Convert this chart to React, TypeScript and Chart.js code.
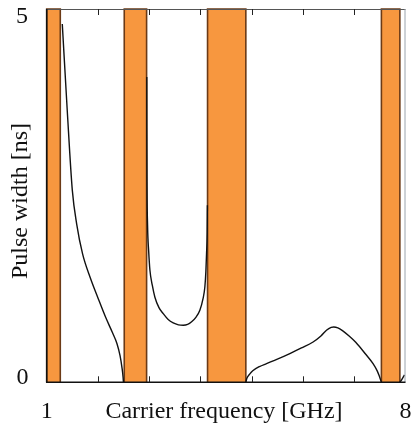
import React, { useEffect, useRef } from "react";
import { Chart, registerables } from "chart.js";

Chart.register(...registerables);

// Axis range and tick labels
const xMin = 1;
const xMax = 8;
const yMin = 0;
const yMax = 5;
const xTickValues = [2, 3, 4, 5, 6, 7];
const xEndLabels = ["1", "8"];
const yEndLabels = ["0", "5"];
const xTitle = "Carrier frequency [GHz]";
const yTitle = "Pulse width [ns]";

// Orange bands (start, end) in GHz
const bandStarts = [1.0, 2.513, 4.138, 7.53];
const bandEnds = [1.265, 2.949, 4.885, 7.89];

// Curve segments
const seg1X = [1.304, 1.4, 1.5, 1.585, 1.7, 1.85, 2.0, 2.15, 2.28, 2.37, 2.43, 2.47, 2.49, 2.497];
const seg1Y = [4.8, 3.65, 2.57, 2.12, 1.72, 1.4, 1.13, 0.87, 0.67, 0.52, 0.36, 0.19, 0.07, 0.0];

const seg2X = [2.953, 2.954, 2.958, 2.968, 2.99, 3.014, 3.06, 3.111, 3.19, 3.273, 3.37, 3.468, 3.57, 3.663, 3.75, 3.827, 3.91, 3.988, 4.05, 4.086, 4.105, 4.119, 4.13, 4.135];
const seg2Y = [4.09, 3.4, 2.6, 2.1, 1.75, 1.5, 1.3, 1.14, 1.0, 0.92, 0.84, 0.795, 0.77, 0.764, 0.775, 0.81, 0.87, 0.965, 1.12, 1.28, 1.48, 1.73, 2.0, 2.37];

const seg3X = [4.885, 4.905, 4.96, 5.02, 5.15, 5.289, 5.5, 5.743, 5.97, 6.197, 6.35, 6.458, 6.55, 6.6, 6.68, 6.77, 6.9, 7.029, 7.224, 7.367, 7.45, 7.487, 7.53];
const seg3Y = [0, 0.054, 0.11, 0.154, 0.21, 0.25, 0.31, 0.385, 0.46, 0.54, 0.62, 0.697, 0.735, 0.741, 0.73, 0.693, 0.62, 0.536, 0.375, 0.25, 0.15, 0.087, 0];

const seg4X = [7.89, 7.93, 7.98];
const seg4Y = [0, 0.04, 0.1];

const FONT = "24px 'Liberation Serif', 'Times New Roman', serif";

const framePlugin = {
  id: "framePlugin",
  afterDraw(chart: any) {
    const ctx = chart.ctx;
    const { left, right, top, bottom } = chart.chartArea;
    const xs = chart.scales.x;
    const ys = chart.scales.y;
    ctx.save();
    // frame
    ctx.lineWidth = 1;
    ctx.strokeStyle = "#555555";
    ctx.beginPath();
    ctx.moveTo(left, top + 0.5);
    ctx.lineTo(right, top + 0.5);
    ctx.stroke();
    ctx.strokeStyle = "#9aa4ae";
    ctx.beginPath();
    ctx.moveTo(right - 0.5, top);
    ctx.lineTo(right - 0.5, bottom);
    ctx.stroke();
    ctx.strokeStyle = "#111111";
    ctx.lineWidth = 1.5;
    ctx.beginPath();
    ctx.moveTo(left, top);
    ctx.lineTo(left, bottom);
    ctx.lineTo(right, bottom);
    ctx.stroke();
    // inward ticks
    ctx.lineWidth = 1;
    ctx.strokeStyle = "#222222";
    xTickValues.forEach((v) => {
      const px = Math.round(xs.getPixelForValue(v)) + 0.5;
      ctx.beginPath();
      ctx.moveTo(px, bottom);
      ctx.lineTo(px, bottom - 6);
      ctx.moveTo(px, top);
      ctx.lineTo(px, top + 6);
      ctx.stroke();
    });
    // labels
    ctx.fillStyle = "#111111";
    ctx.font = FONT;
    ctx.textAlign = "center";
    ctx.textBaseline = "alphabetic";
    ctx.fillText(xEndLabels[0], xs.getPixelForValue(xMin), 417.5);
    ctx.fillText(xEndLabels[1], xs.getPixelForValue(xMax), 417.5);
    ctx.fillText(xTitle, 224, 418);
    ctx.fillText(yEndLabels[0], 22.5, ys.getPixelForValue(yMin) + 1.8);
    ctx.fillText(yEndLabels[1], 22, ys.getPixelForValue(yMax) + 13.5);
    ctx.translate(27, 201);
    ctx.rotate(-Math.PI / 2);
    ctx.fillText(yTitle, 0, 0);
    ctx.restore();
  },
};

function toPoints(xs: number[], ys: number[]) {
  return xs.map((x, i) => ({ x, y: ys[i] }));
}

export default function App() {
  const canvasRef = useRef<HTMLCanvasElement | null>(null);

  useEffect(() => {
    document.body.style.margin = "0";
    const canvas = canvasRef.current;
    if (!canvas) return;

    const bandDatasets = bandStarts.map((a, i) => ({
      type: "line" as const,
      data: [
        { x: a, y: yMin },
        { x: a, y: yMax },
        { x: bandEnds[i], y: yMax },
        { x: bandEnds[i], y: yMin },
      ],
      borderColor: "#6b3a16",
      borderWidth: 1.6,
      backgroundColor: "#f7973f",
      fill: "origin",
      pointRadius: 0,
      tension: 0,
      order: 2,
      clip: 2,
    }));

    const curveDatasets = [
      [seg1X, seg1Y],
      [seg2X, seg2Y],
      [seg3X, seg3Y],
      [seg4X, seg4Y],
    ].map(([xs, ys]) => ({
      type: "line" as const,
      data: toPoints(xs, ys),
      borderColor: "#111111",
      borderWidth: 1.4,
      fill: false,
      pointRadius: 0,
      cubicInterpolationMode: "monotone" as const,
      order: 0,
      clip: 2,
    }));

    const chart = new Chart(canvas, {
      type: "line",
      data: { datasets: [...curveDatasets, ...bandDatasets] as any },
      options: {
        responsive: false,
        maintainAspectRatio: false,
        animation: false,
        layout: { padding: { left: 46.7, right: 6.5, top: 9, bottom: 41.7 } },
        plugins: { legend: { display: false }, tooltip: { enabled: false } },
        scales: {
          x: { type: "linear", min: xMin, max: xMax, display: false },
          y: { type: "linear", min: yMin, max: yMax, display: false },
        },
      },
      plugins: [framePlugin],
    });
    return () => chart.destroy();
  }, []);

  return (
    <div style={{ width: 412, height: 424, background: "#ffffff" }}>
      <canvas ref={canvasRef} width={412} height={424} style={{ display: "block" }} />
    </div>
  );
}
